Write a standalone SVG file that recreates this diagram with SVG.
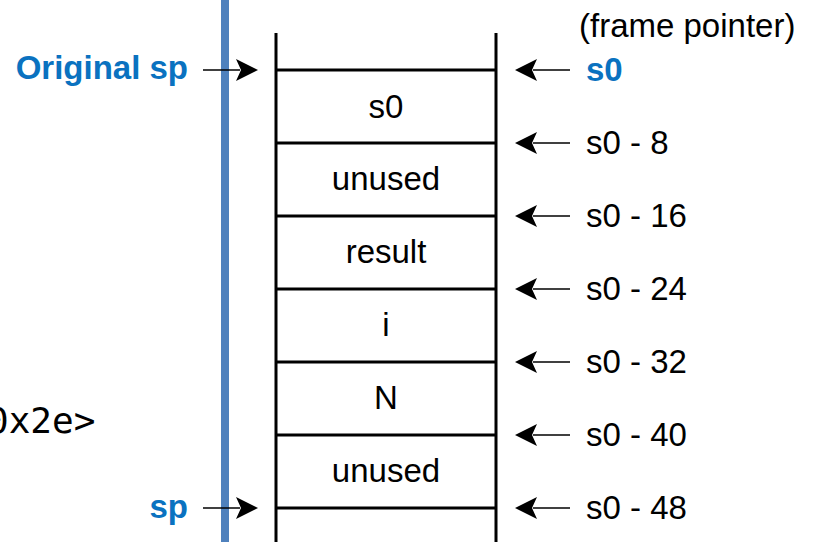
<svg xmlns="http://www.w3.org/2000/svg" width="814" height="542" viewBox="0 0 814 542">
<style>
  text { font-family: "Liberation Sans", Arial, sans-serif; font-size: 33px; fill: #000; }
  .cell { text-anchor: middle; }
  .blue { fill: #0a72c0; font-weight: bold; }
  .mono { font-family: "DejaVu Sans Mono", "Liberation Mono", monospace; font-size: 36px; }
  .frame { stroke: #000; stroke-width: 3; fill: none; }
  .arrow { stroke: #000; stroke-width: 1.5; fill: none; }
</style>
<defs>
  <path id="headR" d="M0,0 L-22,-11 L-17,0 L-22,11 Z" fill="#000"/>
  <path id="headL" d="M0,0 L22,-11 L17,0 L22,11 Z" fill="#000"/>
</defs>
<rect id="blue-bar" x="221" y="0" width="8" height="542" fill="#4f81bd"/>
<text class="mono" x="-13" y="433">0x2e&gt;</text>
<g id="stack">
  <line class="frame" x1="276" y1="33" x2="276" y2="542"/>
  <line class="frame" x1="496" y1="33" x2="496" y2="542"/>
  <line class="frame" x1="276" y1="70" x2="496" y2="70"/>
  <line class="frame" x1="276" y1="143" x2="496" y2="143"/>
  <line class="frame" x1="276" y1="216" x2="496" y2="216"/>
  <line class="frame" x1="276" y1="289" x2="496" y2="289"/>
  <line class="frame" x1="276" y1="362" x2="496" y2="362"/>
  <line class="frame" x1="276" y1="435" x2="496" y2="435"/>
  <line class="frame" x1="276" y1="508" x2="496" y2="508"/>
</g>
<g id="cell-1"><text class="cell" x="386" y="118">s0</text></g>
<g id="cell-2"><text class="cell" x="386" y="190">unused</text></g>
<g id="cell-3"><text class="cell" x="386" y="263">result</text></g>
<g id="cell-4"><text class="cell" x="386" y="336">i</text></g>
<g id="cell-5"><text class="cell" x="386" y="409">N</text></g>
<g id="cell-6"><text class="cell" x="386" y="482">unused</text></g>
<g id="left-labels">
  <text class="blue" x="188" y="79" text-anchor="end">Original sp</text>
  <text class="blue" x="188" y="518" text-anchor="end">sp</text>
</g>
<g id="right-labels">
  <text x="579" y="37">(frame pointer)</text>
  <text class="blue" x="586" y="81">s0</text>
  <text x="586" y="154">s0 - 8</text>
  <text x="586" y="227">s0 - 16</text>
  <text x="586" y="300">s0 - 24</text>
  <text x="586" y="373">s0 - 32</text>
  <text x="586" y="446">s0 - 40</text>
  <text x="586" y="519">s0 - 48</text>
</g>
<g id="connectors">
  <line class="arrow" x1="203" y1="70" x2="240" y2="70"/><use href="#headR" x="258" y="70"/>
  <line class="arrow" x1="203" y1="508" x2="240" y2="508"/><use href="#headR" x="258" y="508"/>
  <line class="arrow" x1="570" y1="70" x2="533" y2="70"/><use href="#headL" x="515" y="70"/>
  <line class="arrow" x1="570" y1="143" x2="533" y2="143"/><use href="#headL" x="515" y="143"/>
  <line class="arrow" x1="570" y1="216" x2="533" y2="216"/><use href="#headL" x="515" y="216"/>
  <line class="arrow" x1="570" y1="289" x2="533" y2="289"/><use href="#headL" x="515" y="289"/>
  <line class="arrow" x1="570" y1="362" x2="533" y2="362"/><use href="#headL" x="515" y="362"/>
  <line class="arrow" x1="570" y1="435" x2="533" y2="435"/><use href="#headL" x="515" y="435"/>
  <line class="arrow" x1="570" y1="508" x2="533" y2="508"/><use href="#headL" x="515" y="508"/>
</g>
</svg>
